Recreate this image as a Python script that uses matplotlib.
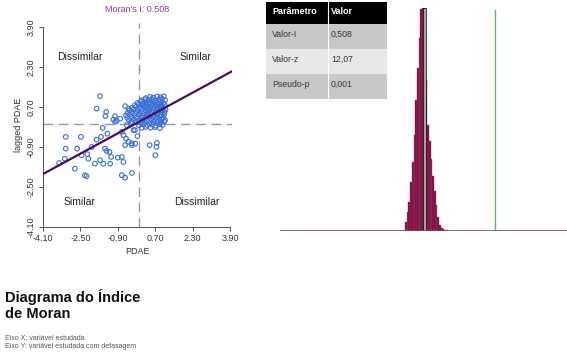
import matplotlib
matplotlib.use("Agg")
import matplotlib.pyplot as plt
from matplotlib.patches import Rectangle

plt.rcParams['font.family'] = ['Liberation Sans', 'DejaVu Sans']

# ---------------- data ----------------
moran_i = 0.508
reg_slope = 0.508
reg_intercept = 0.10
tick_vals = [-4.10, -2.50, -0.90, 0.70, 2.30, 3.90]
tick_labels = ["-4.10", "-2.50", "-0.90", "0.70", "2.30", "3.90"]

# sparse scatter points
sparse_x = [-1.66, -1.81, -1.40, -1.43, -1.02, -1.09, -0.95, -0.59, -0.44,
            -3.13, -2.48, -3.13, -2.64, -3.17, -3.41, -2.45, -2.21, -2.16, -2.74,
            -2.31, -2.24, -2.02, -1.81, -1.62, -1.55, -1.35, -1.45, -1.38, -1.26,
            -1.19, -1.88, -1.66, -1.52, -1.23, -0.90, -0.73, -0.66, -0.73, -0.59,
            -0.30, -0.73, -0.66, -0.55, -0.59, -0.44, -0.30, -0.16, -0.06, -0.23,
            -0.52, -0.30, -1.02, -0.80, 0.46, 0.75, 0.77, 0.70, -0.17, -0.31]
sparse_y = [1.13, 0.63, 0.50, 0.33, 0.33, 0.19, 0.14, 0.73, 0.63,
            -0.50, -0.50, -0.97, -0.97, -1.37, -1.54, -1.23, -1.19, -1.37, -1.77,
            -2.03, -2.07, -0.90, -0.61, -0.50, -0.14, -0.37, -0.97, -1.06, -1.10,
            -1.30, -1.57, -1.43, -1.57, -1.57, -1.33, -1.30, -1.50, -2.03, -2.13,
            -1.94, -0.30, -0.43, -0.57, -0.83, -0.70, -0.83, -0.77, -0.47, -0.23,
            -0.03, 0.10, 0.10, 0.23, -0.83, -0.90, -0.74, -1.23, -0.23, -0.76]

# dense cluster points
dense_x = [0.30, 0.48, 0.62, 0.78, 0.92, 1.06,
           0.12, 0.26, 0.40, 0.55, 0.70, 0.85, 0.99, 1.12,
           -0.05, 0.08, 0.20, 0.34, 0.48, 0.62, 0.76, 0.90, 1.04,
           -0.18, 0.00, 0.15, 0.28, 0.42, 0.57, 0.70, 0.84, 0.97, 1.10,
           -0.30, -0.12, 0.05, 0.22, 0.36, 0.50, 0.64, 0.78, 0.92, 1.05,
           -0.40, -0.22, -0.05, 0.12, 0.30, 0.45, 0.60, 0.74, 0.88, 1.02, 1.14,
           -0.48, -0.30, -0.12, 0.06, 0.24, 0.40, 0.55, 0.70, 0.84, 0.98, 1.10,
           -0.55, -0.38, -0.18, 0.02, 0.18, 0.35, 0.50, 0.66, 0.80, 0.95, 1.08,
           -0.50, -0.30, -0.10, 0.10, 0.28, 0.44, 0.60, 0.75, 0.90, 1.04,
           -0.42, -0.22, 0.00, 0.18, 0.36, 0.52, 0.68, 0.84, 0.98, 1.12,
           -0.35, -0.12, 0.08, 0.26, 0.44, 0.62, 0.78, 0.94, 1.08,
           0.00, 0.18, 0.36, 0.55, 0.72, 0.88, 1.02,
           0.12, 0.30, 0.50, 0.70, 0.90]
dense_y = [1.05, 1.10, 1.07, 1.11, 1.08, 1.12,
           0.96, 1.00, 0.97, 1.01, 0.95, 0.99, 1.02, 0.97,
           0.86, 0.90, 0.85, 0.89, 0.87, 0.91, 0.86, 0.89, 0.85,
           0.76, 0.80, 0.77, 0.75, 0.81, 0.78, 0.76, 0.80, 0.77, 0.79,
           0.66, 0.70, 0.67, 0.69, 0.65, 0.70, 0.68, 0.66, 0.71, 0.67,
           0.56, 0.60, 0.57, 0.59, 0.55, 0.60, 0.58, 0.56, 0.61, 0.57, 0.59,
           0.46, 0.50, 0.47, 0.49, 0.45, 0.50, 0.48, 0.46, 0.51, 0.47, 0.49,
           0.36, 0.40, 0.37, 0.39, 0.35, 0.40, 0.38, 0.36, 0.41, 0.37, 0.39,
           0.26, 0.30, 0.27, 0.29, 0.25, 0.30, 0.28, 0.26, 0.31, 0.27,
           0.16, 0.20, 0.17, 0.19, 0.15, 0.20, 0.18, 0.16, 0.21, 0.17,
           0.06, 0.10, 0.07, 0.09, 0.05, 0.10, 0.08, 0.06, 0.11,
           -0.04, 0.00, -0.03, -0.01, -0.05, 0.00, -0.02,
           -0.14, -0.10, -0.13, -0.11, -0.15]

# permutation reference distribution (bin left edges, counts)
hist_left = [-0.150, -0.1375, -0.125, -0.1125, -0.100, -0.0875, -0.075, -0.0625,
             -0.050, -0.0375, -0.025, -0.0125, 0.000, 0.0125, 0.025, 0.0375,
             0.050, 0.0625, 0.075, 0.0875, 0.100, 0.1125, 0.125, 0.1375, 0.150]
hist_count = [9, 19, 29, 49, 69, 96, 131, 163, 193, 222, 223, 200, 151, 106,
              90, 72, 55, 40, 26, 14, 6, 3, 2, 1, 1]
hist_width = 0.0125
expected_i = -0.005

table_header = ["Parâmetro", "Valor"]
table_params = ["Valor-I", "Valor-z", "Pseudo-p"]
table_values = ["0,508", "12,07", "0,001"]

# ---------------- figure ----------------
W, H = 567, 361
fig = plt.figure(figsize=(W / 100, H / 100), dpi=100)

def fx(px):
    return px / W

def fy(py):
    return 1 - py / H

# scatter axes
ax = fig.add_axes([fx(43), fy(227), fx(232) - fx(43), fy(23) - fy(227)])
ax.set_xlim(-4.10, 3.98)
ax.set_ylim(-4.10, 4.05)
ax.axvline(0.0, color='#999999', lw=1.0, dashes=(7, 4))
ax.axhline(0.0, color='#999999', lw=1.0, dashes=(7, 4))
ax.scatter(sparse_x + dense_x, sparse_y + dense_y, s=11, facecolors='none',
           edgecolors='#3b6fd6', linewidths=0.8, zorder=3)
xl = [-4.10, 3.98]
ax.plot(xl, [reg_intercept + reg_slope * v for v in xl], color='#4a0d5e', lw=1.6, zorder=4)

ax.set_xticks(tick_vals)
ax.set_xticklabels(tick_labels, fontsize=6.5, color='#333333')
ax.set_yticks(tick_vals)
ax.set_yticklabels(tick_labels, fontsize=6.5, color='#333333', rotation=90, va='center')
ax.tick_params(length=3, width=0.6, colors='#333333', pad=2)
for s in ['top', 'right']:
    ax.spines[s].set_visible(False)
ax.spines['left'].set_bounds(-4.10, 3.90)
ax.spines['bottom'].set_bounds(-4.10, 3.90)
for s in ['left', 'bottom']:
    ax.spines[s].set_linewidth(0.6)
    ax.spines[s].set_color('#333333')
ax.set_xlabel("PDAE", fontsize=6.5, color='#333333', labelpad=3)
ax.set_ylabel("lagged PDAE", fontsize=6.5, color='#333333', labelpad=3)

ax.text(-2.52, 2.7, "Dissimilar", fontsize=7.5, ha='center', va='center', color='#222222')
ax.text(2.4, 2.7, "Similar", fontsize=7.5, ha='center', va='center', color='#222222')
ax.text(-2.52, -3.1, "Similar", fontsize=7.5, ha='center', va='center', color='#222222')
ax.text(2.48, -3.1, "Dissimilar", fontsize=7.5, ha='center', va='center', color='#222222')

fig.text(fx(137), fy(9), f"Moran's I: {moran_i:.3f}", fontsize=6.5, color='#8a3c96',
         ha='center', va='center')

# histogram axes
hx = fig.add_axes([fx(280), fy(231), 1 - fx(280), fy(8) - fy(231)])
hx.set_xlim(-1.066, 1.037)
hx.set_ylim(0, 223)
hx.bar(hist_left, hist_count, width=hist_width, align='edge', color='#730a3c',
       edgecolor='#a8406e', linewidth=0.3)
hx.plot([expected_i, expected_i], [0, 223], color='#222222', lw=2.6, solid_capstyle='butt')
hx.plot([expected_i, expected_i], [0, 222], color='#bdbdbd', lw=1.2, solid_capstyle='butt')
hx.plot([moran_i, moran_i], [0, 221], color='#5cb85c', lw=1.0)
hx.axhline(0, color='#8c3f78', lw=1.2)
hx.axis('off')

# table
tx = fig.add_axes([fx(266), fy(99), fx(387) - fx(266), fy(2) - fy(99)])
tx.set_xlim(266, 387)
tx.set_ylim(99, 2)
tx.axis('off')
row_edges = [2, 24, 49, 74, 99]
row_colors = ['#000000', '#c8c8c8', '#e8e8e8', '#c8c8c8']
for i in range(4):
    tx.add_patch(Rectangle((266, row_edges[i]), 121, row_edges[i + 1] - row_edges[i],
                           facecolor=row_colors[i], edgecolor='none'))
tx.plot([327.5, 327.5], [2, 99], color='white', lw=0.8)
tx.text(272, 12, table_header[0], fontsize=6.5, fontweight='bold', color='white', va='center')
tx.text(331, 12, table_header[1], fontsize=6.5, fontweight='bold', color='white', va='center')
for i in range(3):
    yc = (row_edges[i + 1] + row_edges[i + 2]) / 2
    tx.text(272, yc - 2, table_params[i], fontsize=6.3, color='#333333', va='center')
    tx.text(331, yc - 2, table_values[i], fontsize=6.3, color='#333333', va='center')

# titles
fig.text(fx(5), fy(302), "Diagrama do Índice", fontsize=10.5, fontweight='bold',
         color='#111111', va='baseline')
fig.text(fx(5), fy(318), "de Moran", fontsize=10.5, fontweight='bold',
         color='#111111', va='baseline')
fig.text(fx(5), fy(340), "Eixo X: variável estudada", fontsize=5, color='#555555', va='baseline')
fig.text(fx(5), fy(348), "Eixo Y: variável estudada com defasagem", fontsize=5,
         color='#555555', va='baseline')

fig.savefig("out.png", dpi=100)
